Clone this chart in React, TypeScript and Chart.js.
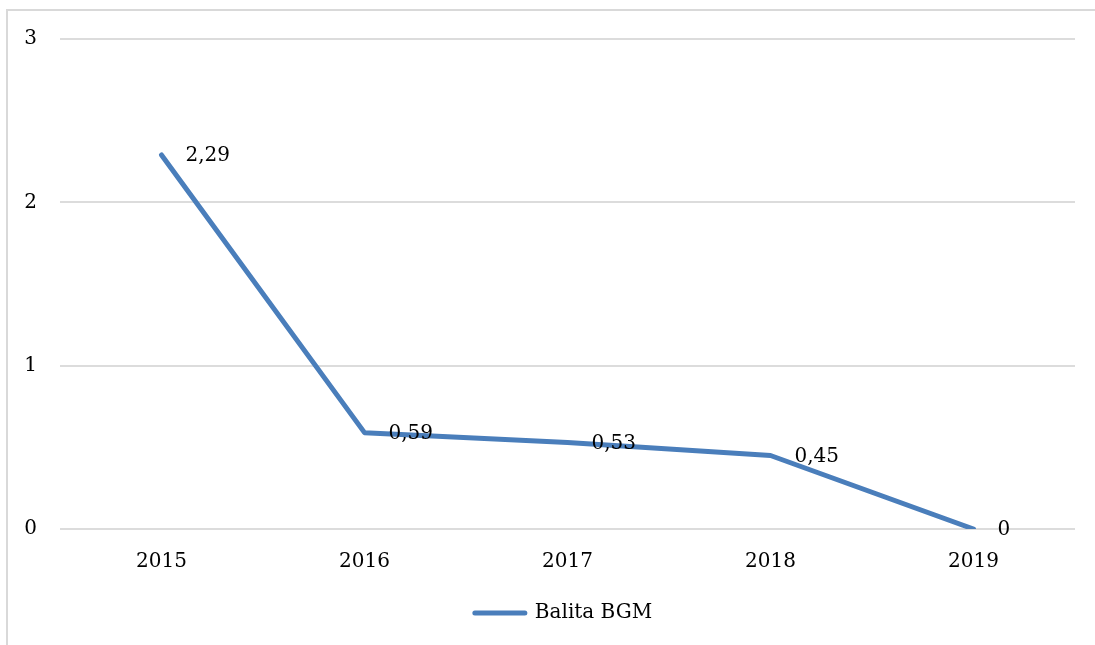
import React, { useEffect, useRef } from "react";
import { Chart, registerables } from "chart.js";

Chart.register(...registerables);

const categories = ["2015", "2016", "2017", "2018", "2019"];
const seriesName = "Balita BGM";
const seriesValues = [2.29, 0.59, 0.53, 0.45, 0];
const yMin = 0;
const yMax = 3;
const yStep = 1;

const FONT = "'DejaVu Serif', serif";
const FS = 20;
const BLUE = "#4a7ebb";
const CW = 1105;

const fmt = (v: number) => String(v).replace(".", ",");

const dataLabelPlugin = {
  id: "dataLabels",
  afterDatasetsDraw(chart: any) {
    const ctx = chart.ctx;
    const meta = chart.getDatasetMeta(0);
    ctx.save();
    ctx.font = `${FS}px ${FONT}`;
    ctx.fillStyle = "#000";
    ctx.textAlign = "left";
    ctx.textBaseline = "middle";
    meta.data.forEach((pt: any, i: number) => {
      ctx.fillText(fmt(seriesValues[i]), pt.x + 24, pt.y + 1);
    });
    ctx.restore();
  },
};

export default function App() {
  const ref = useRef<HTMLCanvasElement | null>(null);
  useEffect(() => {
    if (!ref.current) return;
    const chart = new Chart(ref.current, {
      type: "line",
      data: {
        labels: categories,
        datasets: [
          {
            label: seriesName,
            data: seriesValues,
            borderColor: BLUE,
            backgroundColor: BLUE,
            borderWidth: 5,
            pointRadius: 0,
            pointHoverRadius: 0,
            tension: 0,
            borderJoinStyle: "round",
            borderCapStyle: "round",
          },
        ],
      },
      options: {
        responsive: false,
        animation: false,
        layout: { padding: { left: 22, right: 0, top: 39, bottom: 12 } },
        plugins: {
          tooltip: { enabled: false },
          legend: {
            position: "bottom",
            labels: {
              usePointStyle: true,
              pointStyleWidth: 50,
              padding: 10,
              color: "#000",
              font: { family: FONT, size: FS },
              generateLabels: () => [
                {
                  text: seriesName,
                  pointStyle: "line",
                  strokeStyle: BLUE,
                  fillStyle: BLUE,
                  lineWidth: 5,
                  lineCap: "round",
                  datasetIndex: 0,
                  fontColor: "#000",
                } as any,
              ],
            },
          },
        },
        scales: {
          x: {
            offset: true,
            grid: { display: false, drawTicks: false },
            border: { display: false },
            ticks: {
              padding: 21,
              color: "#000",
              font: { family: FONT, size: FS },
              maxRotation: 0,
            },
            afterFit: (s: any) => {
              s.height = 64;
            },
          },
          y: {
            min: yMin,
            max: yMax,
            grid: { color: "#dcdcdc", lineWidth: 2, drawTicks: false },
            border: { display: false },
            ticks: {
              stepSize: yStep,
              padding: 23,
              color: "#000",
              font: { family: FONT, size: FS },
            },
            afterFit: (s: any) => {
              s.width = 38;
            },
          },
          yRightSpacer: {
            type: "linear",
            position: "right",
            display: true,
            grid: { display: false, drawTicks: false },
            border: { display: false },
            ticks: { display: false },
            afterFit: (s: any) => {
              s.width = CW - 1075;
            },
          },
        },
      },
      plugins: [dataLabelPlugin],
    });
    return () => chart.destroy();
  }, []);

  return (
    <div
      style={{
        position: "fixed",
        left: 0,
        top: 0,
        width: 1095,
        height: 645,
        overflow: "hidden",
        background: "#fff",
      }}
    >
      <canvas
        ref={ref}
        width={CW}
        height={645}
        style={{ position: "absolute", left: 0, top: 0, width: CW, height: 645 }}
      />
      <div
        style={{
          position: "absolute",
          left: 6,
          top: 9,
          width: 1200,
          height: 800,
          borderLeft: "2px solid #d9d9d9",
          borderTop: "2px solid #d9d9d9",
          pointerEvents: "none",
        }}
      />
    </div>
  );
}
